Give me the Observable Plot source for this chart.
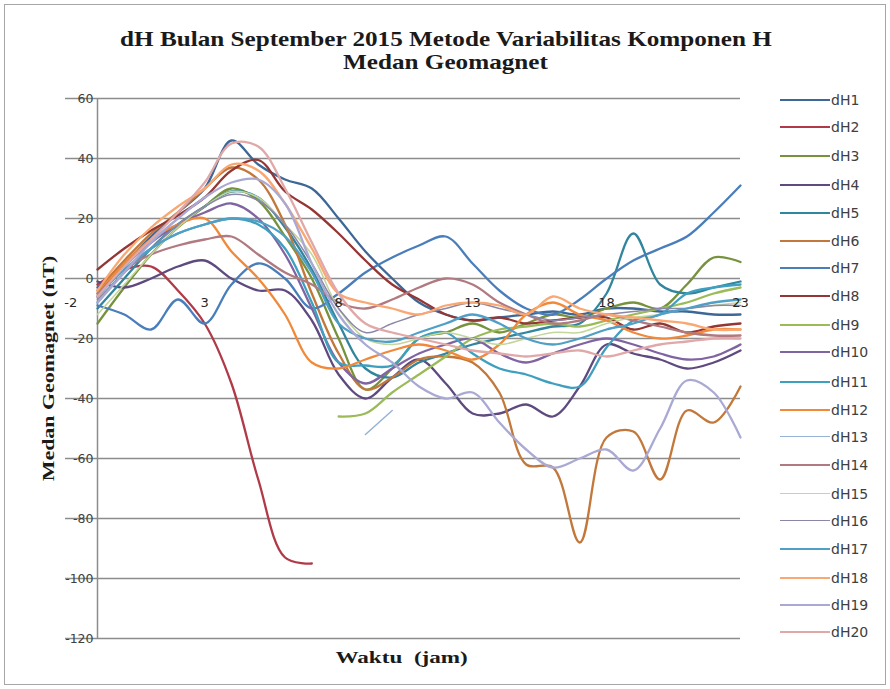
<!DOCTYPE html>
<html><head><meta charset="utf-8">
<script src="https://cdn.jsdelivr.net/npm/d3@7"></script>
<script src="https://cdn.jsdelivr.net/npm/@observablehq/plot@0.6"></script>
<style>
body{margin:0;background:#fff;}
#wrap{position:relative;width:890px;height:689px;overflow:hidden;background:#fff;}
#wrap svg{position:absolute;left:0;top:0;}
.frame{position:absolute;left:4px;top:4px;width:882px;height:681px;border:1px solid #a6a6a6;box-sizing:border-box;}
.t{position:absolute;white-space:nowrap;font-family:"Liberation Serif","Times New Roman",serif;font-weight:bold;color:#1a1a1a;transform-origin:center center;line-height:1;}
.leg{position:absolute;left:780px;font-family:"DejaVu Sans",sans-serif;font-size:14px;color:#404040;}
.leg div{position:absolute;left:0;height:16px;white-space:nowrap;}
.leg span.sw{position:absolute;left:0;top:8px;width:50px;}
.leg span.lb{position:absolute;left:51px;top:0;line-height:16px;}
</style></head>
<body><div id="wrap"><div class="frame"></div></div>
<script>
// ---- data ----
const hours = [-1,0,1,2,3,4,5,6,7,8,9,10,11,12,13,14,15,16,17,18,19,20,21,22,23];
const xTicks = [-2,3,8,13,18,23];
const yTicks = [-120,-100,-80,-60,-40,-20,0,20,40,60];
const seriesNames = ["dH1","dH2","dH3","dH4","dH5","dH6","dH7","dH8","dH9","dH10","dH11","dH12","dH13","dH14","dH15","dH16","dH17","dH18","dH19","dH20"];
const dH1  = [-3,5,14,22,30,46,38,33,30,20,9,0,-8,-12,-14,-13,-12,-11,-12,-10,-10,-11,-11,-12,-12];
const dH2  = [-2,3,4,-4,-15,-35,-67,-93,-95,null,null,null,null,null,null,null,null,null,null,null,null,null,null,null,null];
const dH3  = [-15,-3,8,17,24,30,26,14,0,-20,-37,-30,-20,-18,-15,-18,-15,-12,-13,-10,-8,-10,-2,7,5.5];
const dH4  = [-1,-3,0,4,6,0,-4,-4,-14,-32,-40,-33,-27,-35,-45,-45,-42,-46,-36,-22,-25,-27,-30,-28,-24];
const dH5  = [-10,0,10,18,24,29,27,17,3,-15,-30,-33,-28,-25,-22,-20,-18,-16,-15,-5,15,-2,-5,-3,-1];
const dH6  = [-4,6,15,22,30,37,33,18,-5,-25,-37,-33,-27,-26,-28,-38,-62,-63,-88,-53,-51,-67,-44,-48,-36];
const dH7  = [-9,-12,-17,-7,-15,-2,5,0,-10,-5,2,7,11,14,5,-4,-10,-12,-7,0,6,10,14,22,31];
const dH8  = [3,10,16,21,27,36,39.5,29,23,15,6,-2,-7,-12,-14,-13,-15,-14,-13,-13,-17,-15,-18,-16,-15];
const dH9  = [null,null,null,null,null,null,null,null,null,-46,-45,-38,-32,-26,-20,-17,-16,-15,-16,-14,-12,-10,-8,-5,-3];
const dH10 = [-6,4,12,18,22,25,20,8,-10,-28,-35,-30,-25,-22,-20,-25,-28,-25,-22,-20,-22,-25,-27,-26,-22];
const dH11 = [-8,2,10,15,18,20,18,10,-8,-28,-29,-29,-20,-18,-25,-30,-32,-35,-36,-23,-14,-12,-5,-3,-2];
const dH12 = [-5,5,13,18,20,9,0,-12,-28,-30,-27,-24,-22,-24,-27,-22,-12,-8,-12,-14,-18,-20,-19,-17,-17];
const dH13 = [null,null,null,null,null,null,null,null,null,null,-52,-44,null,null,null,null,null,null,null,null,null,null,null,null,null];
const dH14 = [-5,3,8,11,13,14,8,2,-2,-8,-10,-7,-3,0,-2,-8,-12,-15,-14,-12,-14,-16,-18,-19,-19];
const dH15 = [-12,-2,8,17,24,29,27,18,8,-10,-20,-22,-20,-18,-20,-22,-20,-18,-18,-15,-13,-12,-10,-9,-8];
const dH16 = [-7,2,10,18,24,28,26,18,5,-10,-18,-15,-12,-10,-8,-10,-12,-14,-13,-12,-11,-10,-10,-9,-9];
const dH17 = [-6,3,10,15,18,20,19,14,2,-15,-20,-21,-18,-15,-12,-15,-20,-22,-20,-17,-15,-12,-10,-8,-7];
const dH18 = [-4,8,17,24,30,38,36,25,10,-5,-8,-10,-12,-9,-8,-9,-12,-6,-10,-12,-13,-14,-15,-17,-17];
const dH19 = [-8,2,12,20,27,32,33,25,5,-12,-22,-28,-36,-40,-38,-48,-57,-63,-60,-57,-64,-50,-34,-38,-53];
const dH20 = [-6,4,13,22,32,45,44,30,12,-5,-15,-18,-20,-22,-24,-25,-26,-25,-24,-26,-24,-22,-21,-20,-20];
const allSeries = [dH1,dH2,dH3,dH4,dH5,dH6,dH7,dH8,dH9,dH10,dH11,dH12,dH13,dH14,dH15,dH16,dH17,dH18,dH19,dH20];

// ---- styles ----
const colors = ["#3c6797","#b03a48","#76923c","#5f4a7f","#31859c","#c2783a","#4a7ebb","#943634","#9bbb59","#8064a2",
                "#3f9fbf","#f08a3a","#95b3d7","#b07a80","#c3d69b","#8c86a8","#4f9fc6","#f9a873","#a9a9d4","#e0a8a8"];
const widths = [2.3,2.3,2.3,2.3,2.3,2.3,2.3,2.3,2.3,2.3,2.3,2.3,1.5,2.3,1.5,1.5,2.3,2.3,2.3,2.3];

const lineMarks = seriesNames.map((name, i) =>
  Plot.line(hours.map((h, j) => ({hour: h, value: allSeries[i][j]})),
    {x: "hour", y: "value", stroke: colors[i], strokeWidth: widths[i], curve: "catmull-rom"}));

const chart = Plot.plot({
  width: 890, height: 689,
  marginLeft: 97, marginRight: 150, marginTop: 98, marginBottom: 51,
  x: {domain: [-1, 23], axis: null},
  y: {domain: [-120, 60]},
  style: {background: "transparent", fontFamily: "'DejaVu Sans', sans-serif", fontSize: "12.5px", color: "#404040"},
  marks: [
    Plot.gridY(yTicks, {stroke: "#8c8c8c", strokeOpacity: 1, strokeWidth: 1.5}),
    Plot.axisY(yTicks, {tickSize: 32, tickPadding: -28, stroke: "#8c8c8c", strokeWidth: 1.5, tickFormat: d => String(d), label: null, fill: "#404040"}),
    Plot.ruleX([-1], {stroke: "#8c8c8c", strokeWidth: 1.5}),
    ...lineMarks,
    Plot.text(xTicks, {x: d => d, y: () => 0, dy: 24, text: d => String(d), fill: "#262626", fontSize: 13})
  ]
});
const wrap = document.getElementById("wrap");
wrap.appendChild(chart);

// titles
function addText(txt, cls, css) {
  const d = document.createElement("div");
  d.className = cls; d.textContent = txt;
  Object.assign(d.style, css);
  wrap.appendChild(d);
  return d;
}
function place(el, cx, cy, s, rotate) {
  const w = el.offsetWidth, h = el.offsetHeight;
  el.style.left = (cx - w / 2) + "px";
  el.style.top = (cy - h / 2) + "px";
  el.style.transform = (rotate ? "rotate(-90deg) " : "") + "scaleX(" + s + ")";
}
const t1 = addText("dH Bulan September 2015 Metode Variabilitas Komponen H", "t", {fontSize: "21px"});
const titleScale = 652 / t1.offsetWidth;
place(t1, 446, 39, titleScale, false);
const t2 = addText("Medan Geomagnet", "t", {fontSize: "21px"});
place(t2, 445, 62, titleScale, false);
const ty = addText("Medan Geomagnet (nT)", "t", {fontSize: "17px"});
place(ty, 48, 368, 226 / ty.offsetWidth, true);
const tx = addText("Waktu  (jam)", "t", {fontSize: "17px", whiteSpace: "pre"});
place(tx, 401, 657, 132 / tx.offsetWidth, false);

// legend
const leg = document.createElement("div");
leg.className = "leg"; leg.style.top = "0px";
const legY = [100,127,156,185,213,241,268,296,325,352,382,410,437,465,494,521,549,578,605,632];
seriesNames.forEach((n, i) => {
  const row = document.createElement("div");
  row.style.top = (legY[i] - 8) + "px";
  const sw = document.createElement("span"); sw.className = "sw";
  sw.style.borderTop = widths[i] + "px solid " + colors[i];
  sw.style.top = (8 - widths[i] / 2) + "px";
  const lb = document.createElement("span"); lb.className = "lb"; lb.textContent = n;
  row.appendChild(sw); row.appendChild(lb); leg.appendChild(row);
});
wrap.appendChild(leg);
</script></body></html>
